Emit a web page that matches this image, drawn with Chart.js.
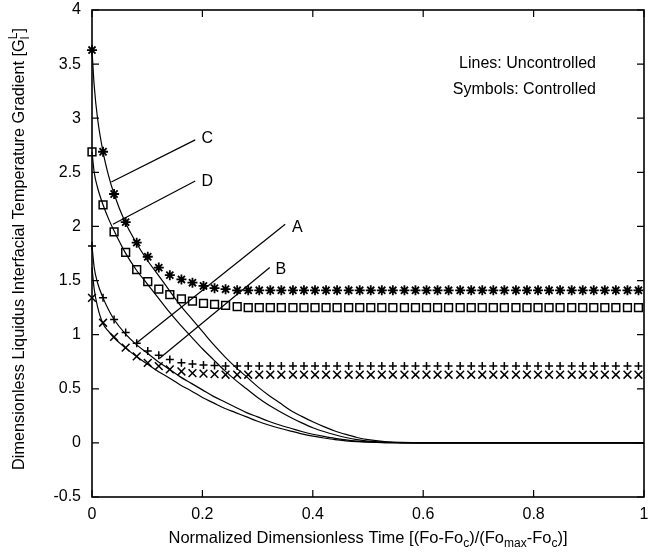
<!DOCTYPE html>
<html>
<head>
<meta charset="utf-8">
<script src="https://cdn.jsdelivr.net/npm/chart.js"></script>
<style>
  html, body { margin: 0; padding: 0; background: #fff; }
</style>
</head>
<body>
<canvas id="chart" width="651" height="553"></canvas>
<script>
// ---- data -------------------------------------------------------------
// uncontrolled solutions (lines), sampled along normalized time
const curveX = [0, 0.004, 0.01, 0.02, 0.03, 0.04, 0.06, 0.08, 0.10, 0.12, 0.14, 0.16, 0.18, 0.20,
  0.22, 0.24, 0.26, 0.28, 0.30, 0.32, 0.34, 0.36, 0.38, 0.40, 0.42, 0.44, 0.46, 0.48, 0.50,
  0.53, 0.56, 0.60, 0.70, 0.80, 0.90, 1.00];
const lineC = [3.63, 3.30, 3.00, 2.69, 2.47, 2.30, 2.04, 1.85, 1.69, 1.55, 1.41, 1.27, 1.15, 1.03,
  0.91, 0.80, 0.70, 0.61, 0.52, 0.44, 0.37, 0.30, 0.245, 0.195, 0.15, 0.11, 0.078, 0.05, 0.03,
  0.012, 0.004, 0, 0, 0, 0, 0];
const lineD = [2.69, 2.50, 2.36, 2.20, 2.07, 1.96, 1.76, 1.60, 1.47, 1.34, 1.21, 1.09, 0.98, 0.87,
  0.77, 0.67, 0.58, 0.50, 0.42, 0.35, 0.29, 0.235, 0.185, 0.14, 0.105, 0.075, 0.05, 0.03, 0.017,
  0.007, 0.002, 0, 0, 0, 0, 0];
const lineA = [1.82, 1.62, 1.48, 1.34, 1.23, 1.14, 1.01, 0.91, 0.83, 0.75, 0.68, 0.61, 0.55, 0.49,
  0.43, 0.38, 0.33, 0.28, 0.24, 0.20, 0.165, 0.135, 0.105, 0.08, 0.06, 0.042, 0.028, 0.017, 0.009,
  0.003, 0.001, 0, 0, 0, 0, 0];
const lineB = [1.62, 1.42, 1.26, 1.10, 1.03, 0.97, 0.88, 0.80, 0.73, 0.66, 0.60, 0.535, 0.48, 0.42,
  0.37, 0.32, 0.28, 0.24, 0.20, 0.165, 0.135, 0.108, 0.083, 0.062, 0.045, 0.03, 0.019, 0.011, 0.006,
  0.002, 0.0005, 0, 0, 0, 0, 0];

// controlled solutions (symbols), every other output step
const symX = [0, 0.020, 0.040, 0.061, 0.081, 0.101, 0.121, 0.141, 0.162, 0.182, 0.202, 0.222,
  0.242, 0.263, 0.283, 0.303, 0.323, 0.343, 0.364, 0.384, 0.404, 0.424, 0.444, 0.465, 0.485,
  0.505, 0.525, 0.545, 0.566, 0.586, 0.606, 0.626, 0.646, 0.667, 0.687, 0.707, 0.727, 0.747,
  0.768, 0.788, 0.808, 0.828, 0.848, 0.869, 0.889, 0.909, 0.929, 0.949, 0.970, 0.990];
const starC = [3.63, 2.69, 2.30, 2.04, 1.85, 1.72, 1.62, 1.55, 1.51, 1.48, 1.45, 1.43, 1.42, 1.41,
  1.41, 1.41, 1.41, 1.41, 1.41, 1.41, 1.41, 1.41, 1.41, 1.41, 1.41, 1.41, 1.41, 1.41, 1.41, 1.41,
  1.41, 1.41, 1.41, 1.41, 1.41, 1.41, 1.41, 1.41, 1.41, 1.41, 1.41, 1.41, 1.41, 1.41, 1.41, 1.41,
  1.41, 1.41, 1.41, 1.41];
const squareD = [2.69, 2.20, 1.95, 1.76, 1.60, 1.49, 1.42, 1.37, 1.33, 1.31, 1.29, 1.28, 1.27, 1.26,
  1.25, 1.25, 1.25, 1.25, 1.25, 1.25, 1.25, 1.25, 1.25, 1.25, 1.25, 1.25, 1.25, 1.25, 1.25, 1.25,
  1.25, 1.25, 1.25, 1.25, 1.25, 1.25, 1.25, 1.25, 1.25, 1.25, 1.25, 1.25, 1.25, 1.25, 1.25, 1.25,
  1.25, 1.25, 1.25, 1.25];
const plusA = [1.82, 1.34, 1.14, 1.02, 0.92, 0.85, 0.81, 0.77, 0.74, 0.73, 0.72, 0.715, 0.71, 0.71,
  0.71, 0.71, 0.71, 0.71, 0.71, 0.71, 0.71, 0.71, 0.71, 0.71, 0.71, 0.71, 0.71, 0.71, 0.71, 0.71,
  0.71, 0.71, 0.71, 0.71, 0.71, 0.71, 0.71, 0.71, 0.71, 0.71, 0.71, 0.71, 0.71, 0.71, 0.71, 0.71,
  0.71, 0.71, 0.71, 0.71];
const crossB = [1.34, 1.11, 0.98, 0.88, 0.80, 0.74, 0.71, 0.68, 0.66, 0.645, 0.64, 0.635, 0.63, 0.63,
  0.63, 0.63, 0.63, 0.63, 0.63, 0.63, 0.63, 0.63, 0.63, 0.63, 0.63, 0.63, 0.63, 0.63, 0.63, 0.63,
  0.63, 0.63, 0.63, 0.63, 0.63, 0.63, 0.63, 0.63, 0.63, 0.63, 0.63, 0.63, 0.63, 0.63, 0.63, 0.63,
  0.63, 0.63, 0.63, 0.63];

// curve labels: name, label position, leader line from -> to (data units)
const labelNames = ['C', 'D', 'A', 'B'];
const labelAt = [[0.209, 2.81], [0.209, 2.41], [0.372, 1.99], [0.342, 1.60]];
const leaderFrom = [[0.187, 2.80], [0.187, 2.42], [0.350, 2.02], [0.322, 1.62]];
const leaderTo = [[0.035, 2.41], [0.038, 2.02], [0.080, 0.92], [0.122, 0.78]];

const xTicks = {min: 0, max: 1, step: 0.2};
const yTicks = {min: -0.5, max: 4, step: 0.5};

// ---- helpers ----------------------------------------------------------
const FONT = '"Liberation Sans", Arial, Helvetica, sans-serif';
const pts = (xs, ys) => xs.map((x, i) => ({x, y: ys[i]}));
const trimZeros = v => String(Number(v.toFixed(2)));

function curve(ys) {
  return {data: pts(curveX, ys), showLine: true, borderColor: '#000', borderWidth: 1.2,
    pointRadius: 0, cubicInterpolationMode: 'monotone', clip: false};
}
function symbols(ys, style, radius, width) {
  return {data: pts(symX, ys), showLine: false, pointStyle: style, pointRadius: radius,
    pointBorderColor: '#000', pointBackgroundColor: 'rgba(0,0,0,0)', pointBorderWidth: width, clip: false};
}
function leader(i) {
  return {data: [{x: leaderFrom[i][0], y: leaderFrom[i][1]}, {x: leaderTo[i][0], y: leaderTo[i][1]}],
    showLine: true, borderColor: '#000', borderWidth: 1.2, pointRadius: 0};
}

// text with optional stacked sub/superscripts
function richWidth(ctx, parts, size) {
  let w = 0;
  parts.forEach(p => {
    ctx.font = size + 'px ' + FONT;
    w += ctx.measureText(p.t).width;
    ctx.font = Math.round(size * 0.72) + 'px ' + FONT;
    w += Math.max(p.sub ? ctx.measureText(p.sub).width : 0, p.sup ? ctx.measureText(p.sup).width : 0);
  });
  return w;
}
function drawRich(ctx, parts, x, y, size) {
  let cx = x - richWidth(ctx, parts, size) / 2;
  ctx.textAlign = 'left';
  ctx.textBaseline = 'middle';
  parts.forEach(p => {
    ctx.font = size + 'px ' + FONT;
    ctx.fillText(p.t, cx, y);
    cx += ctx.measureText(p.t).width;
    ctx.font = Math.round(size * 0.72) + 'px ' + FONT;
    let adv = 0;
    if (p.sub) { ctx.fillText(p.sub, cx, y + size * 0.35); adv = ctx.measureText(p.sub).width; }
    if (p.sup) { ctx.fillText(p.sup, cx, y - size * 0.4); adv = Math.max(adv, ctx.measureText(p.sup).width); }
    cx += adv;
  });
}

const xTitle = [{t: 'Normalized Dimensionless Time [(Fo-Fo', sub: 'c'}, {t: ')/(Fo', sub: 'max'},
  {t: '-Fo', sub: 'c'}, {t: ')]'}];
const yTitle = [{t: 'Dimensionless Liquidus Interfacial Temperature Gradient [G', sub: 'l', sup: 'L'}, {t: ']'}];

// frame, inward ticks on all sides, titles and notes
const decor = {
  id: 'decor',
  afterDraw(chart) {
    const {ctx, chartArea: a, scales: {x, y}} = chart;
    const TICK = 7;
    ctx.save();
    ctx.strokeStyle = '#000';
    ctx.fillStyle = '#000';
    ctx.lineWidth = 1.2;
    ctx.beginPath();
    x.ticks.forEach(t => {
      const px = x.getPixelForValue(t.value);
      ctx.moveTo(px, a.bottom); ctx.lineTo(px, a.bottom - TICK);
      ctx.moveTo(px, a.top); ctx.lineTo(px, a.top + TICK);
    });
    y.ticks.forEach(t => {
      const py = y.getPixelForValue(t.value);
      ctx.moveTo(a.left, py); ctx.lineTo(a.left + TICK, py);
      ctx.moveTo(a.right, py); ctx.lineTo(a.right - TICK, py);
    });
    ctx.stroke();
    ctx.lineWidth = 1.6;
    ctx.strokeRect(a.left, a.top, a.right - a.left, a.bottom - a.top);

    // curve labels
    ctx.font = '16px ' + FONT;
    ctx.textAlign = 'center';
    ctx.textBaseline = 'middle';
    labelNames.forEach((n, i) => {
      ctx.fillText(n, x.getPixelForValue(labelAt[i][0]), y.getPixelForValue(labelAt[i][1]));
    });

    // notes
    ctx.font = '16px ' + FONT;
    ctx.textAlign = 'right';
    ctx.fillText('Lines: Uncontrolled', 596, 64);
    ctx.fillText('Symbols: Controlled', 596, 90);

    // axis titles
    drawRich(ctx, xTitle, 368, 538, 16.5);
    ctx.translate(20, 249);
    ctx.rotate(-Math.PI / 2);
    drawRich(ctx, yTitle, 0, 0, 16.3);
    ctx.restore();
  }
};

new Chart(document.getElementById('chart'), {
  type: 'scatter',
  data: {
    datasets: [
      curve(lineC), curve(lineD), curve(lineA), curve(lineB),
      symbols(starC, 'star', 5, 1.8),
      symbols(squareD, 'rect', 5.5, 1.5),
      symbols(plusA, 'cross', 4, 1.5),
      symbols(crossB, 'crossRot', 5.5, 1.5),
      leader(0), leader(1), leader(2), leader(3)
    ]
  },
  options: {
    responsive: false,
    animation: false,
    events: [],
    layout: {padding: {top: 10, right: 3, left: 0, bottom: 0}},
    plugins: {legend: {display: false}, tooltip: {enabled: false}},
    scales: {
      x: {
        type: 'linear', min: xTicks.min, max: xTicks.max,
        afterFit: s => { s.height = 56; s.paddingLeft = 0; s.paddingRight = 0; },
        ticks: {stepSize: xTicks.step, color: '#000', padding: 8, maxRotation: 0,
          font: {family: FONT, size: 16}, callback: trimZeros},
        grid: {display: false, drawTicks: false},
        border: {display: false}
      },
      y: {
        type: 'linear', min: yTicks.min, max: yTicks.max,
        afterFit: s => { s.width = 92; s.paddingTop = 0; s.paddingBottom = 0; },
        ticks: {stepSize: yTicks.step, color: '#000', padding: 11,
          font: {family: FONT, size: 16}, callback: trimZeros},
        grid: {display: false, drawTicks: false},
        border: {display: false}
      }
    }
  },
  plugins: [decor]
});
</script>
</body>
</html>
